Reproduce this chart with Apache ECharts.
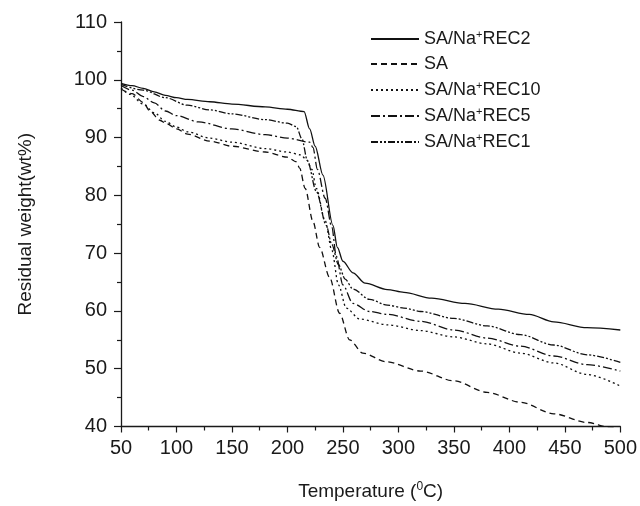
<!DOCTYPE html>
<html>
<head>
<meta charset="utf-8">
<title>TGA curves</title>
<script src="https://cdn.jsdelivr.net/npm/echarts@6/dist/echarts.min.js"></script>
<style>
  html, body { margin: 0; padding: 0; background: #fff; }
  #chart { width: 640px; height: 506px; }
</style>
</head>
<body>
<div id="chart"></div>
<script>
// 图例名称 (legend order)
const seriesNames = ['SA/Na+REC2', 'SA', 'SA/Na+REC10', 'SA/Na+REC5', 'SA/Na+REC1'];
const xTicks = [50, 100, 150, 200, 250, 300, 350, 400, 450, 500];
const yTicks = [40, 50, 60, 70, 80, 90, 100, 110];

// [temperature (°C), residual weight (wt%)]
const rec2Data = [
  [50, 99.4], [60, 99.0], [70, 98.5], [80, 97.9], [90, 97.3], [100, 96.9], [110, 96.6],
  [130, 96.2], [150, 95.8], [180, 95.3], [200, 94.9], [215, 94.5], [220, 91.5], [225, 88.5],
  [232, 83.5], [241, 74.8], [245, 71.0], [250, 68.6], [259, 66.6], [270, 64.8], [290, 63.7],
  [305, 63.2], [330, 62.2], [360, 61.3], [390, 60.3], [418, 59.4], [440, 58.1], [470, 57.1],
  [500, 56.7],
];
const saData = [
  [50, 98.4], [60, 97.6], [70, 96.1], [76, 94.6], [85, 93.0], [91, 92.4], [100, 91.5],
  [110, 90.6], [130, 89.4], [150, 88.5], [180, 87.5], [200, 86.6], [208, 85.8], [211, 84.7],
  [216, 81.2], [223, 75.5], [229, 71.0], [238, 65.8], [247, 59.6], [256, 55.0], [268, 52.7],
  [289, 51.2], [320, 49.6], [350, 47.9], [380, 45.9], [410, 44.2], [440, 42.2], [470, 40.7],
  [490, 39.9], [500, 39.6],
];
const rec10Data = [
  [50, 98.6], [58, 97.5], [70, 95.8], [80, 94.3], [90, 92.8], [100, 91.8], [110, 91.0],
  [130, 89.9], [150, 89.2], [180, 88.1], [200, 87.5], [212, 87.0], [217, 86.2], [222, 84.5],
  [226, 81.2], [234, 75.6], [240, 70.5], [246, 64.5], [253, 60.5], [265, 58.6], [290, 57.6],
  [320, 56.6], [350, 55.5], [380, 54.3], [410, 52.7], [440, 51.0], [470, 49.0], [500, 47.0],
];
const rec5Data = [
  [50, 99.0], [60, 98.2], [70, 97.1], [80, 96.0], [90, 94.6], [100, 93.8], [120, 92.7],
  [150, 91.5], [180, 90.5], [200, 89.9], [220, 89.2], [223, 88.3], [227, 84.5], [234, 79.5],
  [240, 74.5], [244, 69.5], [250, 64.5], [259, 61.3], [274, 59.9], [290, 59.4], [320, 58.2],
  [350, 56.7], [380, 55.3], [410, 53.9], [440, 52.2], [470, 50.7], [500, 49.6],
];
const rec1Data = [
  [50, 99.2], [70, 98.2], [90, 96.9], [110, 95.6], [130, 94.8], [150, 94.1], [180, 93.1],
  [200, 92.5], [208, 91.9], [213, 89.8], [218, 86.0], [226, 80.7], [235, 74.8], [240, 71.5],
  [246, 68.0], [252, 65.5], [259, 63.8], [274, 62.0], [290, 61.0], [305, 60.5], [320, 59.9],
  [350, 58.7], [380, 57.4], [410, 55.9], [440, 54.1], [470, 52.4], [500, 51.1],
];

const seriesData = [rec2Data, saData, rec10Data, rec5Data, rec1Data];
const dashList = ['solid', [6, 4], [2, 3], [9, 3, 2, 3], [7, 2, 2, 2, 2, 2]];

const font = "'Liberation Sans', Arial, sans-serif";
const chart = echarts.init(document.getElementById('chart'));

const option = {
  backgroundColor: '#fff',
  animation: false,
  grid: { left: 121, right: 19, top: 22, bottom: 75, containLabel: false },
  legend: {
    orient: 'vertical',
    left: 365,
    top: 24,
    itemWidth: 48,
    itemHeight: 14,
    itemGap: 7,
    itemStyle: { opacity: 0 }, // 隐藏折线图例中间的圆点
    data: seriesNames,
    formatter: name => name.replace('+', '{sup|+}'),
    textStyle: {
      fontFamily: font,
      fontSize: 18,
      color: '#1a1a1a',
      rich: {
        sup: { fontFamily: font, fontSize: 11, color: '#1a1a1a', padding: [0, 0, 9, 0] },
      },
    },
  },
  xAxis: {
    type: 'value',
    min: xTicks[0],
    max: xTicks[xTicks.length - 1],
    interval: 50,
    name: 'Temperature ({sup|0}C)',
    nameLocation: 'middle',
    nameGap: 54,
    nameTextStyle: {
      fontFamily: font,
      fontSize: 19,
      color: '#1a1a1a',
      rich: {
        sup: { fontFamily: font, fontSize: 12, color: '#1a1a1a', padding: [0, 0, 10, 0] },
      },
    },
    axisLine: { lineStyle: { color: '#1a1a1a', width: 1.3 } },
    axisTick: { length: 6, lineStyle: { color: '#1a1a1a', width: 1.2 } },
    minorTick: { show: true, splitNumber: 2, length: 4, lineStyle: { color: '#1a1a1a', width: 1.2 } },
    axisLabel: { fontFamily: font, fontSize: 20, color: '#1a1a1a', margin: 12 },
    splitLine: { show: false },
  },
  yAxis: {
    type: 'value',
    min: yTicks[0],
    max: yTicks[yTicks.length - 1],
    interval: 10,
    name: 'Residual weight(wt%)',
    nameLocation: 'middle',
    nameGap: 86,
    nameTextStyle: { fontFamily: font, fontSize: 19, color: '#1a1a1a' },
    axisLine: { show: true, lineStyle: { color: '#1a1a1a', width: 1.3 } },
    axisTick: { show: true, length: 7, lineStyle: { color: '#1a1a1a', width: 1.2 } },
    minorTick: { show: true, splitNumber: 2, length: 4, lineStyle: { color: '#1a1a1a', width: 1.2 } },
    axisLabel: { fontFamily: font, fontSize: 20, color: '#1a1a1a', margin: 14 },
    splitLine: { show: false },
  },
  series: [],
};

seriesNames.forEach((name, index) => {
  option.series.push({
    name: name,
    type: 'line',
    data: seriesData[index],
    symbol: 'none',
    smooth: 0.3,
    smoothMonotone: 'x',
    color: '#111',
    lineStyle: { color: '#111', width: 1.3, type: dashList[index] },
  });
});

chart.setOption(option);
</script>
</body>
</html>
